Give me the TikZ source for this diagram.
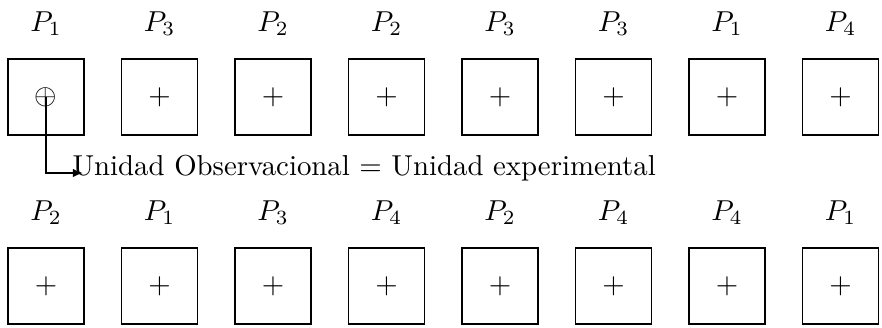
\documentclass[tikz,border=0pt]{standalone}
\usetikzlibrary{arrows.meta}
\begin{document}
\begin{tikzpicture}[x=0.347pt,y=-0.347pt,
  plot/.style={draw,semithick,minimum size=76*0.347pt,inner sep=0pt,outer sep=0pt},
  lab/.style={anchor=base,inner sep=0pt},
  conn/.style={semithick,-{Latex[length=3.5pt,width=3pt]}}]
\useasboundingbox (0,0) rectangle (882,327);
\foreach \p [count=\i from 0] in {1,3,2,2,3,3,1,4}{
  \node[lab] (ta\i) at (46+113.5*\i,31) {$P_{\p}$};
}
\foreach \p [count=\i from 0] in {2,1,3,4,2,4,4,1}{
  \node[lab] (tb\i) at (46+113.5*\i,220) {$P_{\p}$};
}
\node[plot] (a0) at (46,97) {$\oplus$};
\foreach \i in {1,...,7}{
  \node[plot] (a\i) at (46+113.5*\i,97) {$+$};
}
\foreach \i in {0,...,7}{
  \node[plot] (b\i) at (46+113.5*\i,286) {$+$};
}
\node[anchor=base west,inner sep=0pt] (txt) at (72,175) {Unidad Observacional = Unidad experimental};
\coordinate (tip) at (83,173);
\draw[conn] (a0.center) |- (tip);
\end{tikzpicture}
\end{document}
